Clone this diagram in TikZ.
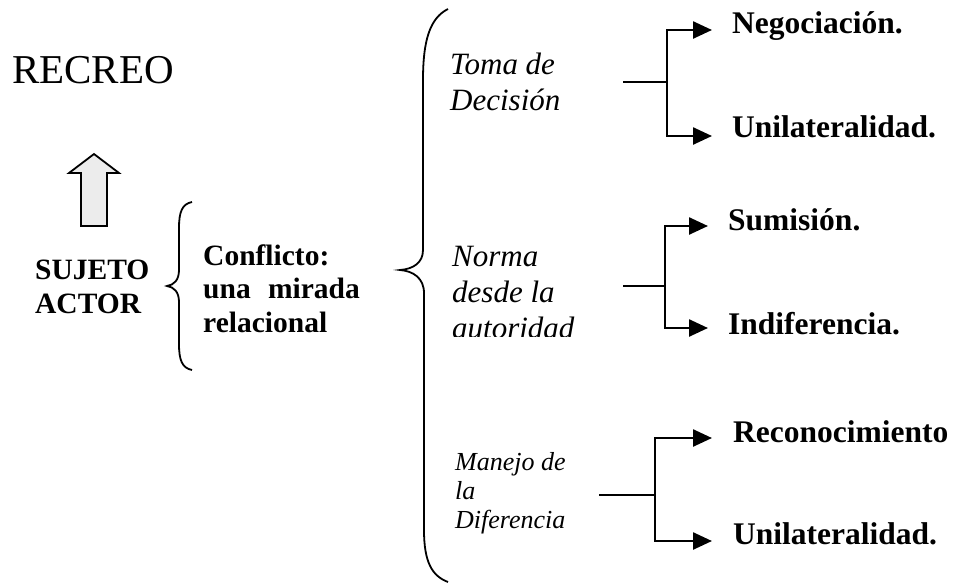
\documentclass[tikz,border=0pt]{standalone}
\usepackage{fontspec}
\setmainfont{Liberation Serif}
\usetikzlibrary{arrows.meta}

\begin{document}
\begin{tikzpicture}[x=1pt,y=-1pt,
  lbl/.style={inner sep=0pt,anchor=base west,align=left},
  hoja/.style={lbl,font=\fontsize{31.5}{34}\selectfont\bfseries},
  tema/.style={lbl,font=\fontsize{31}{36}\selectfont\itshape},
  raiz/.style={lbl,font=\fontsize{29.5}{33.5}\selectfont\bfseries},
  llave/.style={line width=1.8pt},
  rama/.style={line width=2.5pt},
  flecha/.style={rama,-{Triangle[length=19pt,width=17pt]}}]
\useasboundingbox (0,0) rectangle (954,584);

\node[lbl,font=\fontsize{41}{44}\selectfont] (recreo) at (12,83) {RECREO};
\draw[line width=1.8pt,fill=gray!15,line join=miter]
  (81,226) -- (81,173) -- (69,173) -- (94,154) -- (119,173) -- (107,173) -- (107,226) -- cycle;

\node[raiz] (sujeto) at (35,313) {SUJETO\\ACTOR};
\node[raiz] (conflicto) at (203,332) {Conflicto:\\una\hspace{10pt} mirada\\relacional};

% llaves
\draw[llave] (192,202) .. controls (182,204) and (179,212) .. (179,228) -- (179,270)
  .. controls (179,280) and (174,285) .. (167,286) .. controls (174,287) and (179,292) .. (179,302)
  -- (179,344) .. controls (179,360) and (182,368) .. (192,370);
\draw[llave] (448,9) .. controls (430,18) and (423,40) .. (423,80) -- (423,250)
  .. controls (423,263) and (413,269) .. (400,270) .. controls (413,271) and (424,278) .. (424,293)
  -- (424,530) .. controls (424,562) and (432,576) .. (448,582);

\node[tema] (toma) at (450,110) {Toma de\\Decisión};
\begin{scope}
  \clip (440,220) rectangle (600,336);
  \node[tema] (norma) at (452,338) {Norma\\desde la\\autoridad};
\end{scope}
\node[lbl,font=\fontsize{26}{29}\selectfont\itshape] (manejo) at (455,528) {Manejo de\\la\\Diferencia};

\node[hoja] (negoc) at (732,33) {Negociación.};
\node[hoja] (unil1) at (732,137) {Unilateralidad.};
\node[hoja] (sumis) at (728,230) {Sumisión.};
\node[hoja] (indif) at (728,334) {Indiferencia.};
\node[hoja] (recon) at (733,442) {Reconocimiento};
\node[hoja] (unil2) at (733,544) {Unilateralidad.};

\coordinate (s1) at (623,82);  \coordinate (j1) at (667,82);
\coordinate (a1) at (712,30);  \coordinate (b1) at (712,136);
\coordinate (s2) at (623,286); \coordinate (j2) at (665,286);
\coordinate (a2) at (708,226); \coordinate (b2) at (708,328);
\coordinate (s3) at (599,495); \coordinate (j3) at (655,495);
\coordinate (a3) at (712,438); \coordinate (b3) at (712,541);

\draw[rama] (s1) -- (j1);
\draw[flecha] (j1) |- (a1);
\draw[flecha] (j1) |- (b1);
\draw[rama] (s2) -- (j2);
\draw[flecha] (j2) |- (a2);
\draw[flecha] (j2) |- (b2);
\draw[rama] (s3) -- (j3);
\draw[flecha] (j3) |- (a3);
\draw[flecha] (j3) |- (b3);
\end{tikzpicture}
\end{document}
